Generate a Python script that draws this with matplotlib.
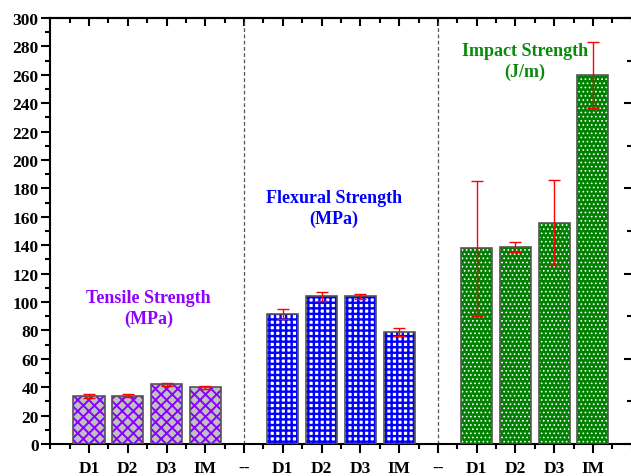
import numpy as np
import matplotlib as mpl
import matplotlib.pyplot as plt
from matplotlib.ticker import MultipleLocator

plt.rcParams['font.family'] = 'Liberation Serif'
plt.rcParams['font.weight'] = 'bold'

categories = ['D1', 'D2', 'D3', 'IM']
tensile = [34, 34, 42, 40]
tensile_err = [1.5, 1.0, 1.0, 1.0]
flexural = [91.5, 104, 104, 79]
flexural_err = [3.5, 3.0, 2.0, 3.0]
impact = [138, 139, 156, 260]
impact_err = [47.5, 3.5, 30, 23]

groups = [
    # values, errors, face, hatch colour, hatch, hatch lw, title, title colour, title pos
    (tensile, tensile_err, '#c0c0c0', '#8800ff', 'xxx', 1.4, 'Tensile Strength\n(MPa)', '#8f00ff', (2.53, 96)),
    (flexural, flexural_err, 'white', '#0000ff', '+++', 1.7, 'Flexural Strength\n(MPa)', '#0000ff', (7.31, 166)),
    (impact, impact_err, '#008000', 'white', '....', 0.7, 'Impact Strength\n(J/m)', '#0a8a0a', (12.25, 270)),
]

fig = plt.figure(figsize=(6.31, 4.77), dpi=100)
ax = fig.add_axes([0.0796, 0.0671, 0.9216, 0.8929])

ticks = []
labels = []
start = 1
for vals, err, face, hcol, hatch, hlw, title, tcol, tpos in groups:
    x = np.arange(len(categories)) + start
    with mpl.rc_context({'hatch.linewidth': hlw}):
        bars = ax.bar(x, vals, width=0.8, color=face, edgecolor=hcol, hatch=hatch, linewidth=0, zorder=2)
    for b in bars:
        if hasattr(b, 'set_hatch_linewidth'):
            b.set_hatch_linewidth(hlw)
    ax.bar(x, vals, width=0.8, fill=False, edgecolor='#555555', linewidth=1.2, zorder=3)
    ax.errorbar(x, vals, yerr=err, fmt='none', ecolor='red', elinewidth=1.0,
                capsize=4, capthick=1.0, zorder=4)
    ax.text(tpos[0], tpos[1], title, ha='center', va='center', multialignment='center',
            fontsize=13, fontweight='bold', color=tcol, linespacing=1.3)
    ticks += list(x)
    labels += categories
    if start + len(categories) < 11:
        sep = start + len(categories)
        ax.axvline(sep, color='#555555', linestyle=(0, (3, 2)), linewidth=0.9, zorder=1)
        ticks.append(sep)
        labels.append('--')
    start += len(categories) + 1

ax.set_xlim(0, 15)
ax.set_ylim(0, 300)
ax.set_xticks(ticks)
ax.set_xticklabels(labels)
ax.xaxis.set_minor_locator(MultipleLocator(0.5))
ax.yaxis.set_major_locator(MultipleLocator(20))
ax.yaxis.set_minor_locator(MultipleLocator(10))

ax.tick_params(axis='both', which='major', labelsize=12.5, width=1.5, length=6.3, direction='out')
ax.tick_params(axis='both', which='minor', width=1.5, length=3.5, direction='out')
ax.tick_params(axis='x', which='major', pad=5)
ax.tick_params(axis='y', which='major', pad=2)
for lab in ax.get_xticklabels() + ax.get_yticklabels():
    lab.set_fontweight('bold')

# top axis ticks pointing in
top = ax.secondary_xaxis('top')
top.set_xticks(ticks)
top.xaxis.set_minor_locator(MultipleLocator(0.5))
top.tick_params(which='major', direction='in', length=6, width=1.5, labeltop=False)
top.tick_params(which='minor', direction='in', length=3.5, width=1.5)
top.spines['top'].set_linewidth(1.5)

# right axis ticks (spine falls off the picture)
rax = ax.twinx()
rax.set_ylim(0, 300)
rax.yaxis.set_major_locator(MultipleLocator(60))
rax.yaxis.set_minor_locator(MultipleLocator(30))
rax.tick_params(which='major', direction='in', length=6, width=1.5, labelright=False)
rax.tick_params(which='minor', direction='in', length=3.5, width=1.5)
for s in ['right', 'top', 'left', 'bottom']:
    rax.spines[s].set_visible(False)

ax.spines['right'].set_visible(False)
for s in ['left', 'bottom', 'top']:
    ax.spines[s].set_linewidth(1.5)

fig.savefig('out.png', dpi=100)
